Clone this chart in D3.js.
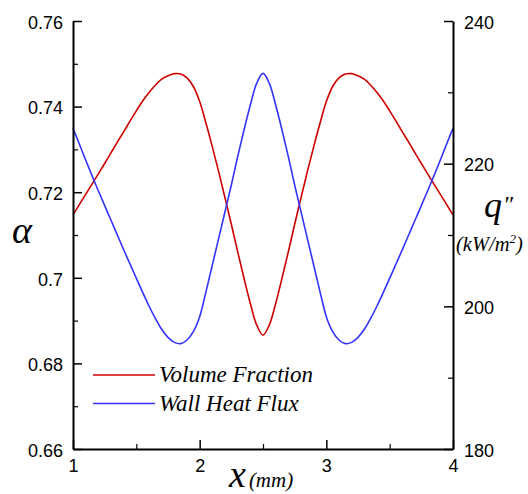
<!DOCTYPE html>
<html><head><meta charset="utf-8">
<script src="https://cdn.jsdelivr.net/npm/d3@7"></script>
<style>
html,body{margin:0;padding:0;background:#fff;}
svg{display:block;}
</style></head>
<body>
<svg id="chart" width="528" height="494"></svg>
<script>
// ---- data ----
const xValues = [1.00,1.05,1.10,1.15,1.20,1.25,1.30,1.35,1.40,1.45,1.50,1.55,1.60,1.65,1.70,1.75,1.80,1.85,1.90,1.95,
  2.00,2.05,2.10,2.15,2.20,2.25,2.30,2.35,2.40,2.45,2.50,2.55,2.60,2.65,2.70,2.75,2.80,2.85,2.90,2.95,
  3.00,3.05,3.10,3.15,3.20,3.25,3.30,3.35,3.40,3.45,3.50,3.55,3.60,3.65,3.70,3.75,3.80,3.85,3.90,3.95,4.00];
const volumeFraction = [0.7147,0.7171,0.7195,0.7219,0.7243,0.7267,0.7292,0.7317,0.7341,0.7366,0.7390,0.7413,0.7433,0.7450,0.7464,0.7472,0.7477,0.7476,0.7467,0.7447,
  0.7412,0.7361,0.7306,0.7248,0.7187,0.7125,0.7061,0.6999,0.6940,0.6890,0.6866,0.6890,0.6940,0.6999,0.7061,0.7125,0.7187,0.7248,0.7306,0.7361,
  0.7412,0.7447,0.7467,0.7476,0.7477,0.7472,0.7464,0.7450,0.7433,0.7413,0.7390,0.7366,0.7341,0.7317,0.7292,0.7267,0.7243,0.7219,0.7195,0.7171,0.7147];
const wallHeatFlux = [224.95,222.76,220.51,218.32,216.21,214.11,212.06,210.00,207.94,205.93,203.93,201.96,200.05,198.32,196.78,195.65,194.95,194.77,195.28,196.45,
  198.55,202.06,205.79,209.53,213.27,217.01,220.98,224.72,228.22,231.26,232.66,231.26,228.22,224.72,220.98,217.01,213.27,209.53,205.79,202.06,
  198.55,196.45,195.28,194.77,194.95,195.65,196.78,198.32,200.05,201.96,203.93,205.93,207.94,210.00,212.06,214.11,216.21,218.32,220.51,222.76,224.95];
const seriesNames = ["Volume Fraction","Wall Heat Flux"];
const xTicks = [1,2,3,4];
const xMinorTicks = [1.5,2.5,3.5];
const leftTicks = [0.66,0.68,0.70,0.72,0.74,0.76];
const leftTickLabels = ["0.66","0.68","0.7","0.72","0.74","0.76"];
const leftMinorTicks = [0.67,0.69,0.71,0.73,0.75];
const rightTicks = [180,200,220,240];
const rightMinorTicks = [190,210,230];

// ---- layout ----
const L = 73, R = 453, T = 21, B = 449;
const svg = d3.select("#chart");
const x = d3.scaleLinear().domain([1,4]).range([L,R]);
const yL = d3.scaleLinear().domain([0.66,0.76]).range([B,T]);
const yR = d3.scaleLinear().domain([180,240]).range([B,T]);

const tickFont = "Liberation Sans, Arial, sans-serif";

// curves
const redLine = d3.line().x((d,i)=>x(xValues[i])).y(d=>yL(d)).curve(d3.curveCatmullRom.alpha(0.5));
const blueLine = d3.line().x((d,i)=>x(xValues[i])).y(d=>yR(d)).curve(d3.curveCatmullRom.alpha(0.5));
svg.append("path").attr("d", redLine(volumeFraction)).attr("fill","none").attr("stroke","#d00000").attr("stroke-width",1.6);
svg.append("path").attr("d", blueLine(wallHeatFlux)).attr("fill","none").attr("stroke","#3333ff").attr("stroke-width",1.6);

function styleAxis(g){
  g.selectAll("path.domain").attr("stroke","#000").attr("stroke-width",2);
  g.selectAll(".tick line").attr("stroke","#000").attr("stroke-width",1.5);
  g.selectAll(".tick text").attr("font-family",tickFont).attr("font-size",18).attr("fill","#000");
}

// left axis
const gL = svg.append("g").attr("transform",`translate(${L},0)`)
  .call(d3.axisLeft(yL).tickValues(leftTicks).tickFormat((d,i)=>leftTickLabels[i]).tickSizeInner(-9).tickSizeOuter(0).tickPadding(10));
styleAxis(gL);
gL.selectAll(".tick text").attr("dy","0.4em");
const gLm = svg.append("g").attr("transform",`translate(${L},0)`)
  .call(d3.axisLeft(yL).tickValues(leftMinorTicks).tickFormat("").tickSizeInner(-5).tickSizeOuter(0));
gLm.select("path.domain").remove();
gLm.selectAll(".tick line").attr("stroke","#000").attr("stroke-width",1.2);

// right axis
const gR = svg.append("g").attr("transform",`translate(${R},0)`)
  .call(d3.axisRight(yR).tickValues(rightTicks).tickFormat(d3.format("d")).tickSizeInner(-9).tickSizeOuter(0).tickPadding(11));
styleAxis(gR);
gR.selectAll(".tick text").attr("dy","0.4em");
const gRm = svg.append("g").attr("transform",`translate(${R},0)`)
  .call(d3.axisRight(yR).tickValues(rightMinorTicks).tickFormat("").tickSizeInner(-5).tickSizeOuter(0));
gRm.select("path.domain").remove();
gRm.selectAll(".tick line").attr("stroke","#000").attr("stroke-width",1.2);

// bottom axis
const gB = svg.append("g").attr("transform",`translate(0,${B})`)
  .call(d3.axisBottom(x).tickValues(xTicks).tickFormat(d3.format("d")).tickSizeInner(-9).tickSizeOuter(0).tickPadding(10));
styleAxis(gB);
gB.selectAll(".tick text").attr("dy","0.72em");
const gBm = svg.append("g").attr("transform",`translate(0,${B})`)
  .call(d3.axisBottom(x).tickValues(xMinorTicks).tickFormat("").tickSizeInner(-5).tickSizeOuter(0));
gBm.select("path.domain").remove();
gBm.selectAll(".tick line").attr("stroke","#000").attr("stroke-width",1.2);

// axis titles
const serif = "Liberation Serif, Times New Roman, serif";
svg.append("text").attr("x",12).attr("y",243).attr("font-family",serif).attr("font-style","italic")
  .attr("font-size",38).text("α");
const xt = svg.append("text").attr("x",229).attr("y",487).attr("font-family",serif).attr("font-style","italic");
xt.append("tspan").attr("font-size",38).text("x");
xt.append("tspan").attr("font-size",21).attr("dx",3).text("(mm)");
const qt = svg.append("text").attr("x",484).attr("y",217).attr("font-family",serif).attr("font-style","italic");
qt.append("tspan").attr("font-size",36).text("q");
qt.append("tspan").attr("font-size",24).attr("dx",1).attr("dy",-5).text("″");
const unit = svg.append("text").attr("x",456).attr("y",251).attr("font-family",serif).attr("font-style","italic").attr("font-size",20.5);
unit.append("tspan").text("(kW/m");
unit.append("tspan").attr("font-size",13).attr("dy",-8).text("2");
unit.append("tspan").attr("dy",8).text(")");

// legend
const legendColors = ["#d00000","#3333ff"];
const lg = svg.append("g");
seriesNames.forEach((name,i)=>{
  const yy = 375 + i*28.5;
  lg.append("line").attr("x1",93).attr("x2",155).attr("y1",yy).attr("y2",yy)
    .attr("stroke",legendColors[i]).attr("stroke-width",1.6);
  lg.append("text").attr("x",159).attr("y",yy+7).attr("font-family",serif).attr("font-style","italic")
    .attr("font-size",23).text(name);
});
</script>
</body></html>
